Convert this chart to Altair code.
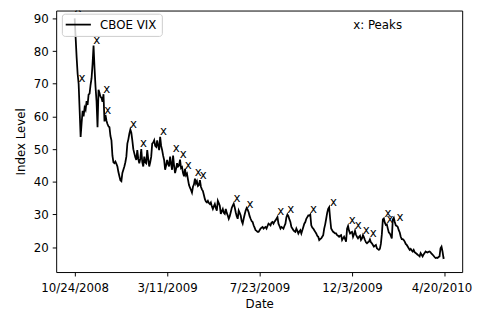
import altair as alt
import pandas as pd

# ---- data (trading-day index -> VIX level) ----
vix_values = [
    90.0, 84.0, 78.0, 73.0, 70.0, 62.0, 53.7, 58.0, 61.7, 60.0,
    62.7, 62.0, 64.7, 63.5, 66.7, 67.0, 69.7, 71.7, 76.0, 81.7,
    74.7, 69.0, 64.7, 56.7, 68.2, 67.2, 66.0, 65.7, 64.5, 66.8,
    58.5, 60.5, 58.7, 57.7, 57.0, 56.7, 54.0, 52.7, 48.0, 46.0,
    45.7, 46.2, 45.5, 44.7, 43.0, 41.7, 40.5, 40.2, 42.7, 43.7,
    44.7, 46.0, 47.7, 51.7, 53.0, 54.7, 56.0, 55.0, 52.7, 50.0,
    48.7, 47.5, 46.7, 49.7, 47.0, 45.7, 47.0, 50.0, 46.0, 44.7,
    47.7, 46.0, 45.7, 49.7, 47.0, 44.7, 46.0, 47.7, 51.7, 52.0,
    52.7, 51.0, 50.7, 52.7, 51.0, 49.7, 53.8, 51.0, 49.7, 48.0,
    46.7, 43.7, 45.0, 46.7, 45.5, 44.7, 47.7, 45.5, 43.7, 48.0,
    45.0, 42.7, 44.0, 45.7, 44.7, 45.0, 46.8, 44.2, 44.5, 42.7,
    41.7, 44.0, 42.0, 42.5, 40.7, 39.0, 38.2, 37.5, 36.7, 38.5,
    39.2, 41.0, 39.5, 40.2, 38.7, 39.0, 40.5, 38.5, 37.7, 37.2,
    36.0, 34.7, 34.0, 33.7, 34.2, 33.5, 33.2, 33.7, 32.5, 31.7,
    32.5, 33.2, 32.0, 31.2, 34.2, 33.5, 32.7, 30.2, 31.0, 31.7,
    30.5, 30.2, 31.7, 30.5, 29.7, 28.7, 29.5, 30.7, 32.0, 32.7,
    33.3, 32.2, 30.7, 29.5, 28.7, 31.2, 30.5, 29.7, 28.0, 27.2,
    28.7, 30.0, 31.2, 32.0, 31.5, 30.7, 29.5, 28.7, 28.0, 27.7,
    26.7, 26.0, 25.2, 25.0, 24.7, 24.7, 25.2, 25.7, 26.0, 26.2,
    25.7, 26.0, 26.2, 25.7, 26.5, 27.2, 27.0, 26.7, 27.5, 27.7,
    27.2, 27.8, 28.2, 28.7, 29.2, 27.2, 26.5, 25.7, 26.2, 26.0,
    25.7, 26.5, 27.2, 29.2, 30.0, 29.5, 28.5, 27.7, 26.2, 25.7,
    25.2, 24.9, 24.7, 25.7, 25.0, 24.2, 24.8, 25.2, 24.2, 25.2,
    26.2, 27.2, 27.7, 28.7, 29.2, 29.7, 29.7, 30.0, 26.7, 26.0,
    25.7, 25.2, 24.7, 24.2, 23.5, 23.2, 22.2, 22.5, 22.7, 23.2,
    23.7, 25.7, 27.0, 28.7, 30.5, 31.7, 32.2, 28.7, 25.7, 25.2,
    24.7, 24.5, 24.2, 24.2, 23.7, 23.5, 23.2, 23.5, 23.7, 22.2,
    22.7, 23.2, 22.5, 21.7, 25.7, 26.5, 25.0, 24.2, 24.5, 24.7,
    23.2, 24.0, 25.0, 23.8, 23.2, 22.7, 23.2, 23.5, 22.2, 22.7,
    23.7, 23.0, 22.2, 21.5, 21.2, 21.5, 21.7, 22.4, 21.5, 21.2,
    20.7, 20.2, 20.5, 20.7, 19.7, 19.4, 19.2, 19.5, 21.0, 24.0,
    28.5, 28.8, 27.5, 26.8, 27.0, 25.7, 24.5, 24.2, 23.5, 22.7,
    28.5, 29.0, 27.7, 26.7, 26.5, 26.2, 25.2, 24.5, 23.2, 22.5,
    22.5, 22.2, 21.7, 21.0, 20.7, 20.2, 19.7, 19.2, 19.5, 19.0,
    18.7, 19.2, 18.5, 18.2, 18.0, 17.7, 17.5, 17.2, 18.2, 17.7,
    17.2, 17.8, 18.2, 18.7, 18.5, 18.4, 18.6, 18.7, 18.4, 18.0,
    17.7, 17.4, 17.0, 16.7, 16.8, 16.7, 17.0, 17.2, 19.7, 20.2,
    18.7, 16.7, 16.8,
]
vix_index = list(range(len(vix_values)))

peak_index = [0, 4, 19, 29, 30, 56, 66, 86, 99, 106, 111, 121, 126, 160, 173,
              204, 214, 237, 257, 276, 282, 290, 297, 312, 314, 324]
peak_values = [91.3, 70.0, 81.7, 66.8, 60.2, 56.0, 50.0, 53.8, 48.5, 46.8, 43.5,
               41.2, 40.5, 33.3, 31.5, 29.2, 30.0, 30.0, 32.2, 26.5, 25.2, 23.5,
               22.5, 28.8, 27.0, 27.5]

tick_index = [0, 93, 186, 279, 372]
tick_dates = ["10/24/2008", "3/11/2009", "7/23/2009", "12/3/2009", "4/20/2010"]
y_ticks = [20, 30, 40, 50, 60, 70, 80, 90]
series_name = "CBOE VIX"
peak_symbol = "x"
peak_note = "x: Peaks"

# ---- tables ----
line_df = pd.DataFrame({"idx": vix_index, "level": vix_values})
peak_df = pd.DataFrame({"idx": peak_index, "level": peak_values,
                        "sym": [peak_symbol] * len(peak_index)})
legend_df = pd.DataFrame({"label": [series_name]})
note_df = pd.DataFrame({"label": [peak_note]})

label_expr = ""
for i, d in zip(tick_index, tick_dates):
    label_expr += f"datum.value == {i} ? '{d}' : "
label_expr += "''"

FONT = "DejaVu Sans"
x_scale = alt.Scale(domain=[-18.6, 389.8], nice=False, zero=False)
y_scale = alt.Scale(domain=[12.4, 92.4], nice=False, zero=False)

x_axis = alt.Axis(
    title="Date", values=tick_index, labelExpr=label_expr, tickCount=len(tick_index),
    grid=False, domain=False, tickSize=4, labelPadding=7, titlePadding=5,
    labelFlush=False, labelOverlap=False,
    labelOffset={"condition": {"test": f"datum.value == {tick_index[-1]}", "value": -3},
                 "value": 0},
)
y_axis = alt.Axis(title="Index Level", values=y_ticks, tickCount=len(y_ticks),
                  grid=False, domain=False, tickSize=4, labelPadding=4,
                  titlePadding=6, labelOverlap=False, labelFlush=False)

line = alt.Chart(line_df).mark_line(color="black", strokeWidth=1.8, clip=True).encode(
    x=alt.X("idx:Q", scale=x_scale, axis=x_axis),
    y=alt.Y("level:Q", scale=y_scale, axis=y_axis),
)

peaks = alt.Chart(peak_df).mark_text(
    font=FONT, fontSize=12, color="black", dx=3.3, dy=-5.7,
    align="center", baseline="middle", clip=True,
).encode(
    x=alt.X("idx:Q", scale=x_scale, axis=x_axis),
    y=alt.Y("level:Q", scale=y_scale, axis=y_axis),
    text="sym:N",
)

legend_box = alt.Chart(legend_df).mark_rect(
    fill="white", fillOpacity=0.8, stroke="#cccccc", strokeWidth=1, cornerRadius=3,
).encode(x=alt.value(6.3), x2=alt.value(108), y=alt.value(3.7), y2=alt.value(26.3))

legend_line = alt.Chart(legend_df).mark_rule(color="black", strokeWidth=1.8).encode(
    x=alt.value(9.7), x2=alt.value(35.3), y=alt.value(14.3))

legend_text = alt.Chart(legend_df).mark_text(
    font=FONT, fontSize=12, color="black", align="left", baseline="middle",
).encode(x=alt.value(44.7), y=alt.value(14.5), text="label:N")

note = alt.Chart(note_df).mark_text(
    font=FONT, fontSize=12, color="black", align="center", baseline="middle",
).encode(x=alt.value(327), y=alt.value(15), text="label:N")

chart = alt.layer(line, peaks, legend_box, legend_line, legend_text, note).properties(
    width=413, height=266,
    autosize=alt.AutoSizeParams(type="none"),
    padding={"left": 49, "top": 0, "right": 11, "bottom": 36},
).configure_view(stroke="black", strokeWidth=1).configure_axis(
    labelFont=FONT, titleFont=FONT, labelFontSize=12, titleFontSize=12,
    titleFontWeight="normal", labelColor="black", titleColor="black",
    tickColor="black", tickWidth=1,
)

chart.save("out.html", embed_options={"renderer": "svg", "actions": False})
